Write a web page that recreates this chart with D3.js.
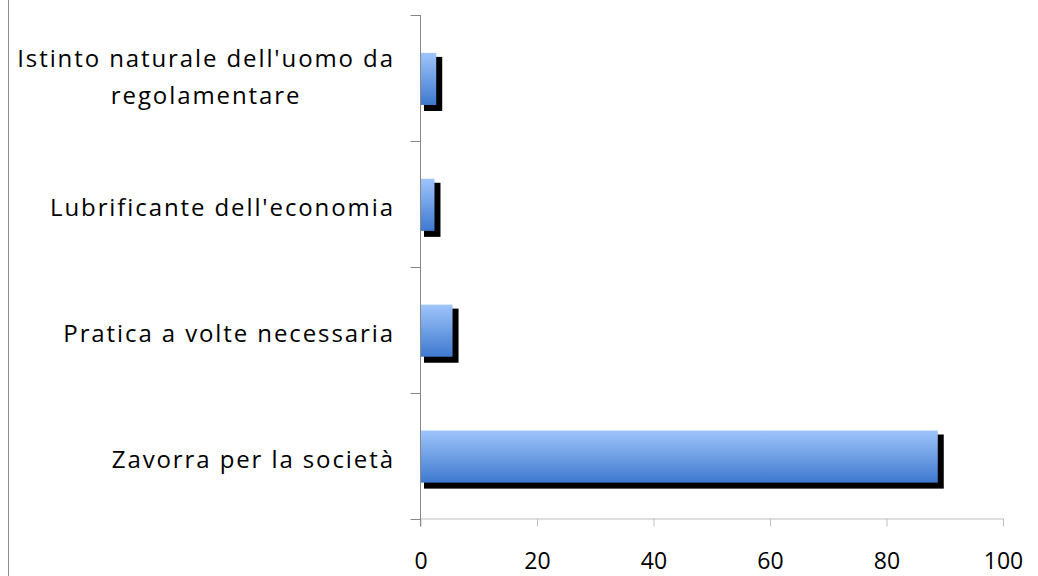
<!DOCTYPE html>
<html>
<head>
<meta charset="utf-8">
<script src="https://cdn.jsdelivr.net/npm/d3@7"></script>
<style>
  html, body { margin: 0; padding: 0; background: #fff; }
  svg { display: block; }
  text { font-family: "Open Sans", "Noto Sans", sans-serif; fill: #000; }
</style>
</head>
<body>
<svg id="chart" width="1038" height="576"></svg>
<script>
// Categories listed bottom to top, one value per bar (%)
const categories = [
  "Zavorra per la società",
  "Pratica a volte necessaria",
  "Lubrificante dell'economia",
  "Istinto naturale dell'uomo da regolamentare"
];
const values = [88.8, 5.5, 2.4, 2.7];
const labelLines = [
  ["Zavorra per la società"],
  ["Pratica a volte necessaria"],
  ["Lubrificante dell'economia"],
  ["Istinto naturale dell'uomo da", "regolamentare"]
];
const xTicks = [0, 20, 40, 60, 80, 100];

const svg = d3.select("#chart");
const W = 1038, H = 576;
const plot = { left: 420.5, right: 1003, top: 15, bottom: 518.5 };
const tickFont = 23;
const labelFont = 24;
const labelSpacing = 1.9;

const x = d3.scaleLinear().domain([0, 100]).range([plot.left, plot.right]);
// Top category first in the band order so it sits at the top
const y = d3.scaleBand()
  .domain(categories.slice().reverse())
  .range([plot.top, plot.bottom])
  .padding(0);

const data = categories.map((c, i) => ({ cat: c, value: values[i], lines: labelLines[i] }));

// Gradient fill for the bars
const defs = svg.append("defs");
const grad = defs.append("linearGradient")
  .attr("id", "barGrad").attr("x1", 0).attr("y1", 0).attr("x2", 0).attr("y2", 1);
grad.append("stop").attr("offset", "0%").attr("stop-color", "#9fc5fb");
grad.append("stop").attr("offset", "100%").attr("stop-color", "#3e79cf");

// Outer frame line at the left edge
svg.append("line")
  .attr("x1", 8.5).attr("x2", 8.5).attr("y1", 0).attr("y2", H)
  .attr("stroke", "#8c8c8c").attr("stroke-width", 1);

// X axis
const xAxis = d3.axisBottom(x).tickValues(xTicks).tickSize(8)
  .tickFormat(d3.format("d"));
const gx = svg.append("g").attr("transform", `translate(0,${plot.bottom})`).call(xAxis);
gx.select(".domain").attr("stroke", "#c0c0c0").attr("d", `M${plot.left},0.5H${plot.right}`);
gx.selectAll(".tick line").attr("stroke", "#c0c0c0");
gx.selectAll(".tick text")
  .style("font-family", "'Open Sans', 'Noto Sans', sans-serif")
  .style("font-size", tickFont + "px").attr("fill", "#000")
  .attr("y", 50.5).attr("dy", 0);

// Bars: drop shadow then gradient body
const barH = y.bandwidth() * 0.414;
const bars = svg.append("g");
data.forEach(d => {
  const yc = y(d.cat) + y.bandwidth() / 2;
  const y0 = yc - barH / 2 + 1;
  const x0 = x(0) + 0.5, x1 = x(d.value);
  bars.append("rect")
    .attr("x", x0 + 3).attr("y", y0 + 4)
    .attr("width", x1 - x0 + 3).attr("height", barH + 2)
    .attr("fill", "#000");
  bars.append("rect")
    .attr("x", x0).attr("y", y0)
    .attr("width", x1 - x0).attr("height", barH)
    .attr("fill", "url(#barGrad)");
});

// Y axis: line and ticks at the band boundaries
const gy = svg.append("g");
gy.append("line")
  .attr("x1", plot.left).attr("x2", plot.left)
  .attr("y1", plot.top).attr("y2", plot.bottom + 8)
  .attr("stroke", "#888");
const bounds = y.domain().map(c => y(c)).concat([plot.bottom]);
gy.selectAll("line.tick").data(bounds).enter().append("line")
  .attr("class", "tick")
  .attr("x1", plot.left - 10).attr("x2", plot.left)
  .attr("y1", d => Math.round(d) + 0.5).attr("y2", d => Math.round(d) + 0.5)
  .attr("stroke", "#888");

// Category labels, right aligned; wrapped lines centred within the block
const labelRight = 393 + labelSpacing;
const lineGap = 37;
data.forEach(d => {
  const yc = y(d.cat) + y.bandwidth() / 2;
  const n = d.lines.length;
  const g = svg.append("g");
  const texts = d.lines.map((t, i) => g.append("text")
    .attr("font-size", labelFont)
    .style("letter-spacing", labelSpacing + "px")
    .attr("y", yc + (i - (n - 1) / 2) * lineGap + (n > 1 ? 8 : 12))
    .text(t));
  const widths = texts.map(t => t.node().getComputedTextLength());
  const maxW = Math.max(...widths);
  const cx = labelRight - maxW / 2;
  texts.forEach(t => t.attr("x", cx).attr("text-anchor", "middle"));
});
</script>
</body>
</html>
